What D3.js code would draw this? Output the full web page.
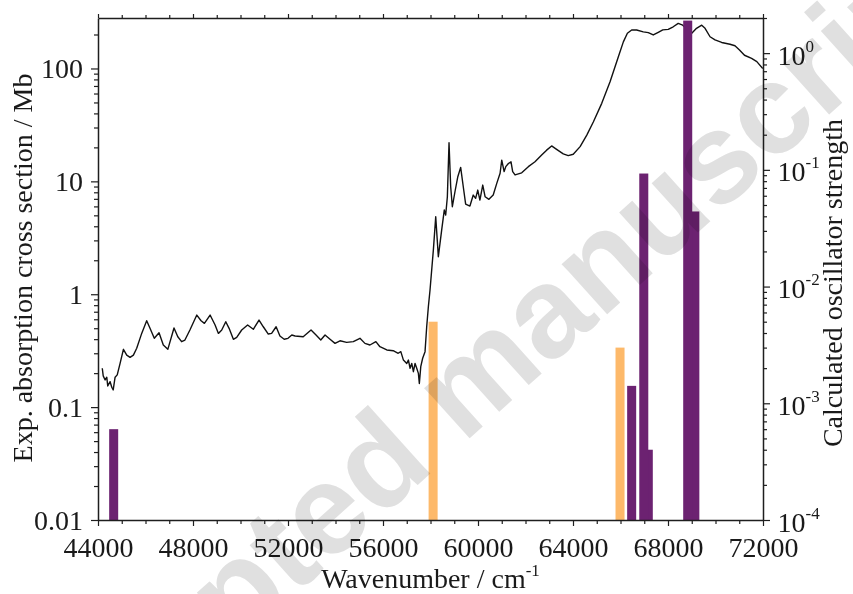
<!DOCTYPE html>
<html>
<head>
<meta charset="utf-8">
<script src="https://cdn.jsdelivr.net/npm/d3@7.9.0/dist/d3.min.js"></script>
<style>
  html, body { margin: 0; padding: 0; background: #fff; }
  svg { display: block; }
  text { font-family: "Liberation Serif", "Times New Roman", serif; fill: #1a1a1a; }
  .watermark { font-family: "Liberation Sans", Arial, sans-serif; font-weight: bold; }
</style>
</head>
<body>
<div id="chart"></div>
<script>
// experimental absorption cross section (Mb) vs wavenumber (cm-1)
const expWavenumber = [
  44180, 44220, 44300, 44370, 44410, 44510, 44580, 44640, 44720, 44810,
  44930, 45070, 45210, 45350, 45490, 45630, 45840, 46050, 46190, 46370,
  46570, 46750, 46940, 47200, 47360, 47520, 47660, 47870, 48160, 48340,
  48480, 48720, 48930, 49070, 49210, 49380, 49520, 49700, 49840, 50050,
  50300, 50540, 50780, 50960, 51170, 51310, 51500, 51660, 51840, 52000,
  52160, 52300,
  52640, 52970, 53180, 53380, 53560, 53770, 53980, 54190, 54470, 54750,
  55030, 55240, 55450, 55700, 55870, 56160, 56430, 56640, 56750, 56860,
  57000, 57070, 57140, 57210, 57280, 57350, 57420, 57490, 57530, 57590,
  57670, 57770, 57840,
  57910, 57980, 58120, 58220, 58330, 58470, 58580, 58640, 58710, 58780,
  58850, 58920, 59030, 59150, 59270, 59380, 59480, 59660, 59800, 59900,
  59990, 60080, 60200, 60300, 60460, 60640, 60790, 60930, 61000, 61100,
  61170, 61280, 61390, 61460, 61560, 61840, 62120, 62400, 62680, 62890,
  63100, 63310, 63590, 63800, 64010, 64300, 64580, 64860, 65210, 65560,
  65910, 66120, 66290, 66470, 66680, 66960, 67170, 67380, 67590, 67780,
  68010, 68220, 68430, 68620, 68800, 69000, 69200, 69420, 69560, 69770,
  69980, 70260, 70610, 70820, 71010, 71220, 71520, 71740, 71990
];
const expCrossSection = [
  0.221, 0.189, 0.174, 0.184, 0.154, 0.168, 0.150, 0.142, 0.184, 0.193,
  0.244, 0.325, 0.289, 0.276, 0.289, 0.332, 0.450, 0.582, 0.499, 0.407,
  0.456, 0.355, 0.325, 0.502, 0.420, 0.380, 0.393, 0.482, 0.654, 0.582,
  0.552, 0.654, 0.534, 0.450, 0.482, 0.571, 0.499, 0.399, 0.415, 0.482,
  0.534, 0.489, 0.591, 0.515, 0.444, 0.450, 0.515, 0.427, 0.399, 0.407,
  0.435, 0.427,
  0.420, 0.482, 0.435, 0.393, 0.435, 0.399, 0.367, 0.387, 0.375, 0.380,
  0.407, 0.367, 0.355, 0.380, 0.343, 0.321, 0.316, 0.300, 0.310, 0.261,
  0.244, 0.261, 0.221, 0.244, 0.206, 0.244, 0.221, 0.199, 0.162, 0.228,
  0.271, 0.310, 0.515,
  0.775, 1.09, 2.46, 4.86, 2.15, 3.70, 5.57, 5.03, 7.30, 22.0,
  8.96, 5.96, 8.09, 11.0, 13.3, 8.96, 6.29, 6.04, 7.56, 7.07,
  8.37, 6.83, 9.27, 7.30, 6.93, 7.56, 9.60, 11.8, 15.4, 12.2,
  13.5, 14.4, 14.9, 12.2, 11.4, 11.9, 13.5, 14.9, 17.1, 18.9,
  20.6, 19.2, 17.5, 16.9, 17.4, 20.3, 25.7, 33.7, 49.1, 76.3,
  127, 172, 205, 219, 219, 211, 208, 198, 209, 220,
  222, 234, 251, 242, 223, 205, 227, 242, 227, 191,
  179, 170, 164, 159, 146, 131, 123, 115, 100
];

// calculated transitions (oscillator strength)
const purpleWavenumber = [44660, 66470, 67170, 66980, 69130, 68830];
const purpleStrength = [6.0e-4, 1.41e-3, 4.0e-4, 0.093, 0.044, 1.9];
const orangeWavenumber = [58110, 65980];
const orangeStrength = [5.0e-3, 3.0e-3];

// axis ticks
const xTicks = [44000, 48000, 52000, 56000, 60000, 64000, 68000, 72000];
const leftTicks = [0.01, 0.1, 1, 10, 100];
const rightTicks = [1e-4, 1e-3, 1e-2, 1e-1, 1];

const width = 853;
const height = 594;
const plot = { left: 98, right: 763, top: 18, bottom: 520 };
const barWidth = 380; // cm-1
const purple = '#6c2271';
const orange = '#fdb96a';
const axisColor = '#1e1e1e';

const svg = d3
  .select('#chart')
  .append('svg')
  .attr('width', width)
  .attr('height', height)
  .attr('viewBox', `0 0 ${width} ${height}`);

const xScale = d3.scaleLinear().domain([44000, 72000]).range([plot.left, plot.right]);
const yLeft = d3.scaleLog().domain([0.01, 280]).range([plot.bottom, plot.top]);
const yRight = d3.scaleLog().domain([1e-4, 2]).range([plot.bottom, plot.top]);

// minor tick positions
const xMinor = d3.range(44000, 72001, 1000).filter((d) => !xTicks.includes(d));
const logMinor = (lo, hi, max) => {
  const out = [];
  for (let e = lo; e <= hi; e++) {
    for (let m = 2; m <= 9; m++) {
      const v = m * Math.pow(10, e);
      if (v <= max) out.push(v);
    }
  }
  return out;
};
const leftMinor = logMinor(-2, 2, 280);
const rightMinor = logMinor(-4, 0, 2);

// curve
svg.append('clipPath').attr('id', 'clip')
  .append('rect')
  .attr('x', plot.left).attr('y', plot.top)
  .attr('width', plot.right - plot.left).attr('height', plot.bottom - plot.top);

const points = expWavenumber.map((w, i) => [w, expCrossSection[i]]);
const line = d3.line()
  .x((d) => xScale(d[0]))
  .y((d) => yLeft(d[1]));

svg.append('path')
  .datum(points)
  .attr('clip-path', 'url(#clip)')
  .attr('d', line)
  .attr('fill', 'none')
  .attr('stroke', '#111')
  .attr('stroke-width', 1.4)
  .attr('stroke-linejoin', 'round');

// bars
const bars = [
  ...purpleWavenumber.map((w, i) => ({ w, f: purpleStrength[i], color: purple })),
  ...orangeWavenumber.map((w, i) => ({ w, f: orangeStrength[i], color: orange })),
].sort((a, b) => a.f - b.f);

svg.append('g')
  .selectAll('rect')
  .data(bars)
  .join('rect')
  .attr('x', (d) => xScale(d.w - barWidth / 2))
  .attr('width', (d) => xScale(d.w + barWidth / 2) - xScale(d.w - barWidth / 2))
  .attr('y', (d) => yRight(d.f))
  .attr('height', (d) => yRight(1e-4) - yRight(d.f))
  .attr('fill', (d) => d.color);

// axes
function styleAxis(g) {
  g.attr('color', axisColor).attr('font-size', null).attr('font-family', null);
  g.selectAll('.domain').attr('stroke-width', 1.5);
  g.selectAll('.tick line').attr('stroke-width', 1.2);
}

// minor ticks first
svg.append('g')
  .attr('transform', `translate(0, ${plot.bottom})`)
  .call(d3.axisBottom(xScale).tickValues(xMinor).tickFormat('').tickSizeInner(4).tickSizeOuter(0))
  .call(styleAxis)
  .call((g) => g.select('.domain').remove());
svg.append('g')
  .attr('transform', `translate(0, ${plot.top})`)
  .call(d3.axisTop(xScale).tickValues(xMinor).tickFormat('').tickSizeInner(3).tickSizeOuter(0))
  .call(styleAxis)
  .call((g) => g.select('.domain').remove());
svg.append('g')
  .attr('transform', `translate(${plot.left}, 0)`)
  .call(d3.axisLeft(yLeft).tickValues(leftMinor).tickFormat('').tickSizeInner(4).tickSizeOuter(0))
  .call(styleAxis)
  .call((g) => g.select('.domain').remove());
svg.append('g')
  .attr('transform', `translate(${plot.right}, 0)`)
  .call(d3.axisRight(yRight).tickValues(rightMinor).tickFormat('').tickSizeInner(4).tickSizeOuter(0))
  .call(styleAxis)
  .call((g) => g.select('.domain').remove());

// major axes
svg.append('g')
  .attr('transform', `translate(0, ${plot.bottom})`)
  .call(d3.axisBottom(xScale).tickValues(xTicks).tickFormat((d) => d).tickSizeInner(6).tickSizeOuter(0))
  .call(styleAxis)
  .call((g) => g.selectAll('.tick text').attr('y', 36.5).attr('dy', null).attr('font-size', 28));

svg.append('g')
  .attr('transform', `translate(0, ${plot.top})`)
  .call(d3.axisTop(xScale).tickValues(xTicks).tickFormat('').tickSizeInner(4).tickSizeOuter(0))
  .call(styleAxis);

svg.append('g')
  .attr('transform', `translate(${plot.left}, 0)`)
  .call(d3.axisLeft(yLeft).tickValues(leftTicks).tickFormat((d) => String(d)).tickSizeInner(7).tickSizeOuter(0))
  .call(styleAxis)
  .call((g) => g.selectAll('.tick text').attr('x', -15).attr('y', 9.5).attr('dy', null).attr('font-size', 28));

svg.append('g')
  .attr('transform', `translate(${plot.right}, 0)`)
  .call(d3.axisRight(yRight).tickValues(rightTicks).tickFormat('').tickSizeInner(7).tickSizeOuter(0))
  .call(styleAxis)
  .call((g) =>
    g.selectAll('.tick text')
      .attr('x', 14.5)
      .attr('y', 11)
      .attr('dy', null)
      .attr('font-size', 28)
      .each(function (d) {
        const t = d3.select(this);
        t.append('tspan').text('10');
        t.append('tspan')
          .attr('dy', -13)
          .attr('font-size', 17)
          .text(Math.round(Math.log10(d)));
      })
  );

// axis titles
svg.append('text')
  .attr('x', (plot.left + plot.right) / 2)
  .attr('y', 588)
  .attr('text-anchor', 'middle')
  .attr('font-size', 28)
  .call((t) => {
    t.append('tspan').text('Wavenumber / cm');
    t.append('tspan').attr('dy', -12).attr('font-size', 17).text('-1');
  });

svg.append('text')
  .attr('transform', 'translate(31.5, 268) rotate(-90)')
  .attr('text-anchor', 'middle')
  .attr('font-size', 28)
  .text('Exp. absorption cross section / Mb');

svg.append('text')
  .attr('transform', 'translate(842, 283) rotate(-90)')
  .attr('text-anchor', 'middle')
  .attr('font-size', 28)
  .text('Calculated oscillator strength');

// watermark of the source document
svg.append('text')
  .attr('class', 'watermark')
  .attr('transform', 'translate(492, 418) rotate(-42)')
  .attr('text-anchor', 'middle')
  .attr('font-size', 128)
  .style('fill', '#e0e0e0')
  .style('mix-blend-mode', 'multiply')
  .text('Accepted manuscript');
</script>
</body>
</html>
